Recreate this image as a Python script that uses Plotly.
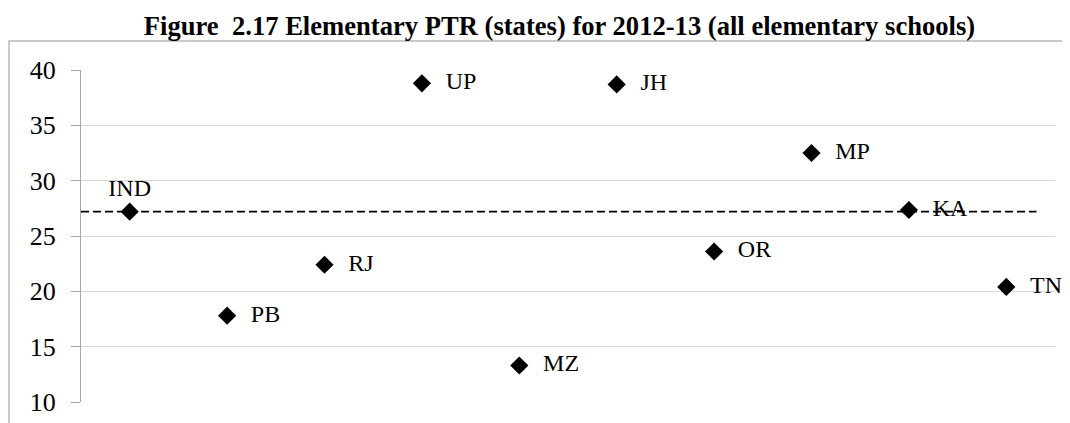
import plotly.graph_objects as go

# state labels, position along the chart and PTR value
states = ["IND", "PB", "RJ", "UP", "MZ", "JH", "OR", "MP", "KA", "TN"]
xpos = [1, 2, 3, 4, 5, 6, 7, 8, 9, 10]
ptr = [27.2, 17.8, 22.4, 38.8, 13.3, 38.7, 23.6, 32.5, 27.35, 20.4]

india_avg = ptr[0]
avg_line_x = [0.5, 10.31]
y_ticks = [10, 15, 20, 25, 30, 35, 40]

serif = "Liberation Serif, Times New Roman, serif"
pad = "\u00a0\u00a0\u200a"
labels = [states[0]] + [pad + s for s in states[1:]]
label_pos = ["top center"] + ["middle right"] * 9

fig = go.Figure()

# dashed line for the all-India average
fig.add_trace(go.Scatter(x=avg_line_x, y=[india_avg, india_avg], mode="lines",
                         line=dict(color="black", width=1.8, dash="8px,4px"),
                         hoverinfo="skip", showlegend=False))

fig.add_trace(go.Scatter(x=xpos, y=ptr, mode="markers+text", text=labels,
                         textposition=label_pos,
                         textfont=dict(family=serif, size=24, color="black"),
                         marker=dict(symbol="diamond", size=14, color="black"),
                         cliponaxis=False, showlegend=False))

fig.update_xaxes(range=[0.5, 10.5], showgrid=False, showticklabels=False,
                 zeroline=False, showline=False, automargin=False)
fig.update_yaxes(range=[10, 40], tickvals=y_ticks, showgrid=True,
                 gridcolor="#d9d9d9", gridwidth=1, zeroline=False,
                 showline=True, linecolor="#a6a6a6", linewidth=1,
                 ticks="outside", ticklen=9, tickcolor="#a6a6a6",
                 ticklabelstandoff=10, automargin=False,
                 tickfont=dict(family=serif, size=26, color="black"))

# outer chart border (runs off the right and bottom of the picture)
fig.add_shape(type="rect", xref="paper", yref="paper",
              x0=-0.0739, x1=1.03, y0=-0.1, y1=1.0873,
              line=dict(color="#b8b8b8", width=1.5), layer="below")

fig.update_layout(
    width=1062, height=415,
    margin=dict(l=73, r=15, t=62, b=21),
    paper_bgcolor="white", plot_bgcolor="white",
    title=dict(text="<b>Figure  2.17 Elementary PTR (states) for 2012-13 (all elementary schools)</b>",
               font=dict(family=serif, size=26.6, color="black"),
               x=551.5 / 1062, xref="container", xanchor="center",
               y=1 - 18 / 415, yref="container", yanchor="middle"),
)

fig.write_html("out.html")
